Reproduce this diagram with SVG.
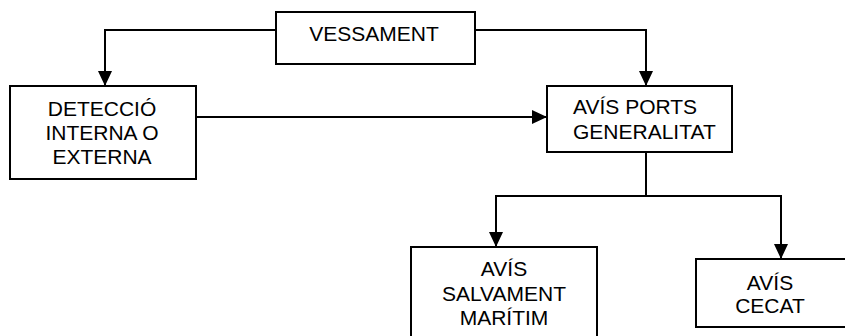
<svg xmlns="http://www.w3.org/2000/svg" width="845" height="336" viewBox="0 0 845 336">
<style>
.box{fill:#fff;stroke:#000;stroke-width:2}
.lbl{font-family:"Liberation Sans",Arial,sans-serif;font-size:21px;fill:#000;text-anchor:middle}
.st{text-anchor:start}
.con{fill:none;stroke:#000;stroke-width:2}
</style>
<defs>
<marker id="ah" markerUnits="userSpaceOnUse" markerWidth="16" markerHeight="14" refX="15" refY="7" orient="auto">
<path d="M0,0 L15,7 L0,14 z" fill="#000"/>
</marker>
</defs>
<rect width="845" height="336" fill="#fff"/>
<g id="connectors">
<path class="con" d="M276,30 H105 V86" marker-end="url(#ah)"/>
<path class="con" d="M475,30 H646 V86" marker-end="url(#ah)"/>
<path class="con" d="M196,117 H547" marker-end="url(#ah)"/>
<path class="con" d="M646,152 V196"/>
<path class="con" d="M646,196 H496 V247" marker-end="url(#ah)"/>
<path class="con" d="M646,196 H781 V259" marker-end="url(#ah)"/>
</g>
<g id="vessament">
<rect class="box" x="276" y="12" width="199" height="52"/>
<text class="lbl" x="374" y="40.5">VESSAMENT</text>
</g>
<g id="deteccio">
<rect class="box" x="10" y="86" width="186" height="93"/>
<text class="lbl" x="102" y="115.5">DETECCIÓ</text>
<text class="lbl" x="102" y="139.7">INTERNA O</text>
<text class="lbl" x="102" y="164">EXTERNA</text>
</g>
<g id="avis-ports">
<rect class="box" x="547" y="86" width="185" height="66"/>
<text class="lbl st" x="573" y="114.3">AVÍS PORTS</text>
<text class="lbl st" x="573" y="138.8">GENERALITAT</text>
</g>
<g id="salvament">
<rect class="box" x="411" y="247" width="186" height="95"/>
<text class="lbl" x="504" y="276">AVÍS</text>
<text class="lbl" x="504" y="300.5">SALVAMENT</text>
<text class="lbl" x="504" y="325">MARÍTIM</text>
</g>
<g id="cecat">
<rect class="box" x="696" y="259" width="155" height="68"/>
<text class="lbl" x="770" y="290">AVÍS</text>
<text class="lbl" x="770" y="313">CECAT</text>
</g>
</svg>
